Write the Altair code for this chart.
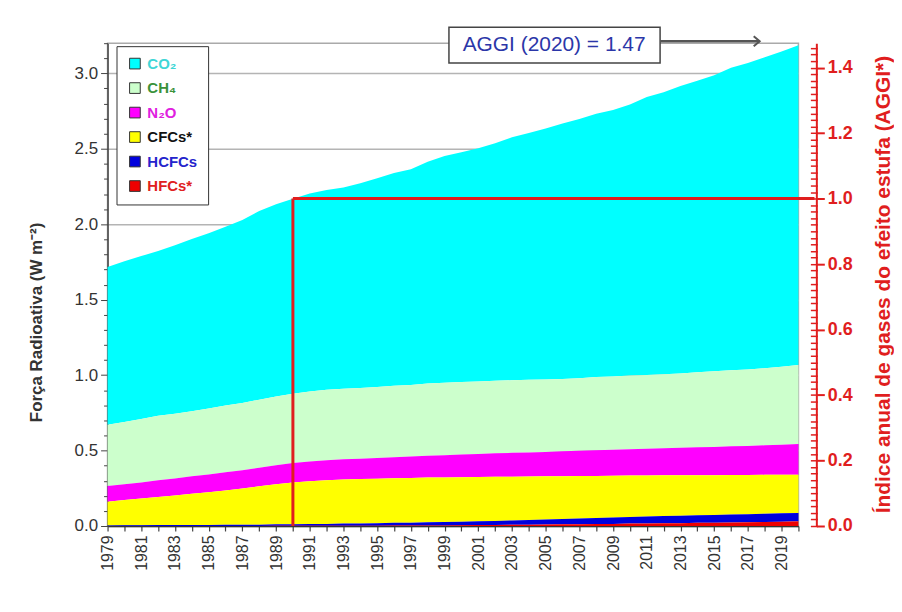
import altair as alt
import pandas as pd

FONT = "Liberation Sans, Arial, Helvetica, sans-serif"
RED = "#e01e1e"

years = list(range(1979, 2021))
co2 = [1.045, 1.065, 1.080, 1.092, 1.117, 1.141, 1.163, 1.185, 1.212, 1.250,
       1.274, 1.293, 1.313, 1.324, 1.334, 1.356, 1.383, 1.410, 1.430, 1.470,
       1.502, 1.522, 1.545, 1.575, 1.610, 1.636, 1.664, 1.693, 1.718, 1.745,
       1.766, 1.796, 1.842, 1.870, 1.906, 1.932, 1.961, 2.005, 2.030, 2.060,
       2.090, 2.120]
ch4 = [0.406, 0.413, 0.420, 0.426, 0.429, 0.432, 0.437, 0.442, 0.447, 0.451,
       0.455, 0.459, 0.463, 0.467, 0.467, 0.470, 0.472, 0.473, 0.474, 0.478,
       0.481, 0.481, 0.480, 0.480, 0.481, 0.481, 0.480, 0.480, 0.482, 0.485,
       0.486, 0.488, 0.489, 0.490, 0.492, 0.497, 0.502, 0.504, 0.507, 0.511,
       0.516, 0.524]
n2o = [0.104, 0.104, 0.107, 0.111, 0.113, 0.116, 0.118, 0.122, 0.120, 0.123,
       0.126, 0.129, 0.131, 0.133, 0.134, 0.134, 0.136, 0.139, 0.142, 0.145,
       0.148, 0.151, 0.153, 0.156, 0.158, 0.160, 0.162, 0.165, 0.167, 0.170,
       0.172, 0.174, 0.177, 0.179, 0.182, 0.185, 0.187, 0.190, 0.193, 0.196,
       0.199, 0.203]
cfcs = [0.157, 0.168, 0.177, 0.187, 0.196, 0.206, 0.216, 0.227, 0.240, 0.254,
        0.266, 0.276, 0.284, 0.289, 0.292, 0.294, 0.295, 0.296, 0.296, 0.296,
        0.295, 0.294, 0.293, 0.292, 0.290, 0.288, 0.286, 0.284, 0.282, 0.279,
        0.277, 0.275, 0.272, 0.270, 0.268, 0.266, 0.264, 0.262, 0.260, 0.258,
        0.256, 0.254]
hcfcs = [0.004, 0.005, 0.005, 0.006, 0.006, 0.007, 0.007, 0.008, 0.009, 0.009,
         0.010, 0.011, 0.012, 0.013, 0.014, 0.015, 0.017, 0.018, 0.019, 0.021,
         0.022, 0.024, 0.026, 0.027, 0.029, 0.031, 0.033, 0.035, 0.037, 0.040,
         0.042, 0.044, 0.046, 0.048, 0.049, 0.050, 0.051, 0.052, 0.053, 0.054,
         0.055, 0.055]
hfcs = [0.000, 0.000, 0.000, 0.000, 0.000, 0.000, 0.000, 0.000, 0.000, 0.000,
        0.001, 0.001, 0.001, 0.001, 0.002, 0.002, 0.002, 0.003, 0.003, 0.004,
        0.004, 0.005, 0.006, 0.007, 0.008, 0.009, 0.010, 0.011, 0.012, 0.013,
        0.014, 0.016, 0.017, 0.018, 0.019, 0.021, 0.022, 0.024, 0.025, 0.027,
        0.029, 0.031]

gas_names = ["CO₂", "CH₄", "N₂O", "CFCs*", "HCFCs", "HFCs*"]
gas_colors = ["#00ffff", "#ccffcc", "#ff00ff", "#ffff00", "#0000dd", "#ee0000"]
label_colors = ["#3fd6d6", "#3a923a", "#e020e0", "#111111", "#2424cc", "#e02020"]
series = [co2, ch4, n2o, cfcs, hcfcs, hfcs]

# AGGI reference: 1990 = 1.0 ; forcing in 1990 (W m-2)
aggi_base_year = 1990
aggi_base = 1.0
forcing_1990 = 2.17
aggi_line_end = 2020.95
aggi_text = "AGGI (2020) = 1.47"
box_x = [1999.26, 2011.79]
box_y = [3.068, 3.306]
text_pos = [2005.5, 3.19]
arrow_x = [2011.79, 2017.7]
arrow_y = 3.213

left_ticks = [round(0.1 * i, 1) for i in range(33)]
right_major = [round(0.2 * i, 1) for i in range(8)]
right_minor = [round(0.02 * i, 2) for i in range(74)]

rows = []
for i, (name, vals) in enumerate(zip(gas_names, series)):
    for yr, v in zip(years, vals):
        rows.append({"year": yr, "gas": name, "value": v, "ord": len(gas_names) - 1 - i})
df = pd.DataFrame(rows)

yscale_left = alt.Scale(domain=[0, 3.2], nice=False, zero=True)
yscale_right = alt.Scale(domain=[0, 3.2 / forcing_1990], nice=False, zero=True)
xscale = alt.Scale(domain=[1979, 2020], nice=False, zero=False)

is_major = "abs(datum.value*2 - round(datum.value*2)) < 0.001"
color_expr = ""
for n, c in zip(gas_names, label_colors):
    color_expr += f"datum.value == '{n}' ? '{c}' : "
color_expr += "'#111111'"

areas = alt.Chart(df).mark_area(interpolate="linear", opacity=1).encode(
    x=alt.X("year:Q", scale=xscale, title=None,
            axis=alt.Axis(values=years, format="d",
                          labelExpr="datum.value % 2 == 1 ? datum.label : ''",
                          labelAngle=270, labelFontSize=16, labelColor="#333333",
                          labelFont=FONT, labelOverlap=False, labelFlush=False,
                          labelPadding=4, tickSize=5, tickColor="#444444",
                          tickWidth=1.2, domainColor="#333333", domainWidth=1.5,
                          grid=False, title=None)),
    y=alt.Y("value:Q", stack="zero", scale=yscale_left,
            axis=alt.Axis(values=left_ticks,
                          labelExpr=f"{is_major} ? format(datum.value, '.1f') : ''",
                          tickSize={"condition": {"test": is_major, "value": 7}, "value": 4},
                          grid=True, gridColor="#b4b4b4", gridWidth=1.5,
                          gridOpacity={"condition": {"test": is_major, "value": 1}, "value": 0},
                          domainColor="#444444", domainWidth=1.5, tickColor="#444444",
                          labelFontSize=17, labelColor="#333333", labelFont=FONT,
                          labelPadding=3, labelOverlap=False,
                          title="Força Radioativa (W m⁻²)", titleFont=FONT,
                          titleFontSize=17, titleFontWeight="bold", titleColor="#333333",
                          titleX=-71, titleY=280, titleBaseline="middle")),
    color=alt.Color("gas:N", scale=alt.Scale(domain=gas_names, range=gas_colors),
                    legend=alt.Legend(orient="none", legendX=9, legendY=3, title=None,
                                      fillColor="white", strokeColor="#333333",
                                      padding=10, symbolOffset=1,
                                      symbolType="square", symbolSize=115,
                                      symbolStrokeColor="#333333", symbolStrokeWidth=1,
                                      symbolOpacity=1,
                                      labelFont=FONT, labelFontSize=15,
                                      labelFontWeight="bold",
                                      labelColor={"expr": color_expr},
                                      labelLimit=200,
                                      rowPadding=8.6, labelOffset=5)),
    order=alt.Order("ord:Q", sort="ascending"),
)

box_df = pd.DataFrame({"x1": [box_x[0]], "x2": [box_x[1]], "y1": [box_y[0]], "y2": [box_y[1]]})
box = alt.Chart(box_df).mark_rect(fill="white", stroke="#444444", strokeWidth=1.5).encode(
    x=alt.X("x1:Q", scale=xscale, axis=None), x2="x2",
    y=alt.Y("y1:Q", scale=yscale_left, axis=None), y2="y2",
)
txt_df = pd.DataFrame({"x": [text_pos[0]], "y": [text_pos[1]], "t": [aggi_text]})
txt = alt.Chart(txt_df).mark_text(font=FONT, fontSize=21, color="#2b36a8",
                                  align="center", baseline="middle").encode(
    x=alt.X("x:Q", scale=xscale, axis=None),
    y=alt.Y("y:Q", scale=yscale_left, axis=None),
    text="t:N",
)
arr_df = pd.DataFrame({"x1": [arrow_x[0]], "x2": [arrow_x[1]], "y": [arrow_y]})
arrow = alt.Chart(arr_df).mark_rule(color="#555555", strokeWidth=2.5).encode(
    x=alt.X("x1:Q", scale=xscale, axis=None), x2="x2",
    y=alt.Y("y:Q", scale=yscale_left, axis=None),
)
head = alt.Chart(arr_df).mark_point(shape="M -1.2 -1 L 0 0 L -1.2 1", filled=False,
                                    stroke="#555555", strokeWidth=2, size=100,
                                    opacity=1).encode(
    x=alt.X("x2:Q", scale=xscale, axis=None),
    y=alt.Y("y:Q", scale=yscale_left, axis=None),
)

left = alt.layer(areas, box, txt, arrow, head).resolve_axis(x="independent", y="independent")

base_df = pd.DataFrame({"x": [aggi_base_year, aggi_base_year],
                        "x2": [aggi_base_year, aggi_line_end],
                        "y": [0.0, aggi_base], "y2": [aggi_base, aggi_base]})
rules = alt.Chart(base_df).mark_rule(color=RED, strokeWidth=3).encode(
    x=alt.X("x:Q", scale=xscale, axis=None), x2="x2",
    y=alt.Y("y:Q", scale=yscale_right,
            axis=alt.Axis(orient="right", offset=18, values=right_major, format=".1f",
                          tickSize=8, tickColor=RED, tickWidth=2, domainColor=RED,
                          domainWidth=2, labelColor=RED, labelFontSize=18,
                          labelFontWeight="bold", labelFont=FONT, labelPadding=3,
                          labelOverlap=False, grid=False,
                          title="Índice anual de gases do efeito estufa (AGGI*)",
                          titleAngle=270, titleColor=RED, titleFontSize=21,
                          titleFontWeight="bold", titleFont=FONT,
                          titleX=67, titleY=242, titleBaseline="middle")),
    y2="y2",
)
inner = alt.Chart(base_df).mark_rule(opacity=0).encode(
    x=alt.X("x:Q", scale=xscale, axis=None),
    y=alt.Y("y:Q", scale=yscale_right,
            axis=alt.Axis(orient="right", offset=12, values=right_minor, tickSize=7,
                          tickColor=RED, tickWidth=1.5, labels=False, domain=False,
                          grid=False, title=None)),
)

chart = alt.layer(left, rules, inner).resolve_scale(y="independent").resolve_axis(
    x="independent", y="independent").properties(
    width=694, height=485,
    autosize=alt.AutoSizeParams(type="none"),
    padding={"left": 100, "top": 34, "right": 96, "bottom": 77},
    background="white",
).configure_view(stroke="#aaaaaa", strokeWidth=1.5)

chart.save("out.html", embed_options={"renderer": "svg", "actions": False})
